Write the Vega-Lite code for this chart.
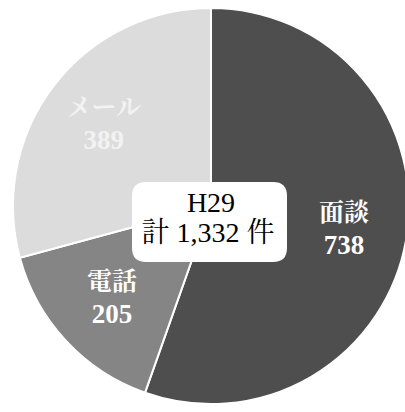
{
  "$schema": "https://vega.github.io/schema/vega-lite/v6.json",
  "width": 388,
  "height": 412,
  "autosize": {"type": "none"},
  "padding": {"left": 17, "top": 0, "right": 0, "bottom": 0},
  "background": "white",
  "config": {"view": {"stroke": null}},
  "datasets": {
    "pie": [
      {"method": "面談", "count": 738, "rank": 1},
      {"method": "電話", "count": 205, "rank": 2},
      {"method": "メール", "count": 389, "rank": 3}
    ],
    "center": [
      {"year": "H29", "total": "計 1,332 件"}
    ]
  },
  "layer": [
    {
      "data": {"name": "pie"},
      "mark": {"type": "arc", "outerRadius": 198, "stroke": "white", "strokeWidth": 2},
      "encoding": {
        "theta": {"field": "count", "type": "quantitative", "stack": true},
        "order": {"field": "rank", "type": "quantitative", "sort": "ascending"},
        "color": {
          "field": "method", "type": "nominal",
          "scale": {"domain": ["面談", "電話", "メール"], "range": ["#4e4e4e", "#858585", "#dcdcdc"]},
          "legend": null
        }
      }
    },
    {
      "data": {"name": "pie"},
      "mark": {"type": "text", "radius": 135, "dy": -16, "fontSize": 25, "fontWeight": "bold", "font": "Liberation Serif, Noto Serif CJK JP, Noto Sans CJK JP", "baseline": "middle", "align": "center"},
      "encoding": {
        "theta": {"field": "count", "type": "quantitative", "stack": true},
        "order": {"field": "rank", "type": "quantitative", "sort": "ascending"},
        "text": {"field": "method", "type": "nominal"},
        "color": {"condition": {"test": "datum.method === 'メール'", "value": "#f2f2f2"}, "value": "white"}
      }
    },
    {
      "data": {"name": "pie"},
      "mark": {"type": "text", "radius": 135, "dy": 17, "fontSize": 27, "fontWeight": "bold", "font": "Liberation Serif, Noto Serif CJK JP, Noto Sans CJK JP", "baseline": "middle", "align": "center"},
      "encoding": {
        "theta": {"field": "count", "type": "quantitative", "stack": true},
        "order": {"field": "rank", "type": "quantitative", "sort": "ascending"},
        "text": {"field": "count", "type": "quantitative"},
        "color": {"condition": {"test": "datum.method === 'メール'", "value": "#f2f2f2"}, "value": "white"}
      }
    },
    {
      "data": {"name": "center"},
      "mark": {
        "type": "point", "filled": true, "fill": "white", "opacity": 1, "strokeWidth": 0,
        "shape": "M-0.82,-0.516 L0.82,-0.516 Q1,-0.516 1,-0.336 L1,0.336 Q1,0.516 0.82,0.516 L-0.82,0.516 Q-1,0.516 -1,0.336 L-1,-0.336 Q-1,-0.516 -0.82,-0.516 Z",
        "size": 24025
      },
      "encoding": {"xOffset": {"value": -1.5}, "yOffset": {"value": 16}}
    },
    {
      "data": {"name": "center"},
      "mark": {"type": "text", "dy": -2, "dx": 0, "fontSize": 28, "font": "Liberation Serif, Noto Serif CJK JP, Noto Sans CJK JP", "baseline": "middle", "align": "center", "color": "black"},
      "encoding": {"text": {"field": "year", "type": "nominal"}}
    },
    {
      "data": {"name": "center"},
      "mark": {"type": "text", "dy": 28, "dx": -3, "fontSize": 28, "font": "Liberation Serif, Noto Serif CJK JP, Noto Sans CJK JP", "baseline": "middle", "align": "center", "color": "black"},
      "encoding": {"text": {"field": "total", "type": "nominal"}}
    }
  ]
}
